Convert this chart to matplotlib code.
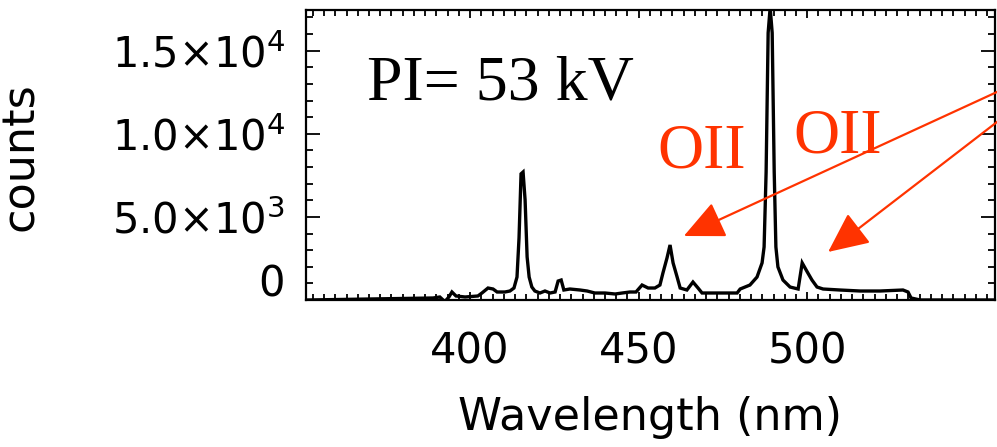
import numpy as np
import matplotlib
matplotlib.use('Agg')
import matplotlib.pyplot as plt
from matplotlib.ticker import MultipleLocator

# spectrum (nm, counts)
wavelength = [352, 389.0, 391.0, 392.5, 393.7, 394.6, 395.8, 398.5, 402.3, 403.5,
              405.3, 406.8, 408.0, 410.3, 411.8, 413.0, 413.9, 414.5, 415.1, 415.7,
              416.3, 416.9, 417.5, 418.3, 419.2, 420.7, 422.2, 423.7, 425.2, 426.1,
              427.0, 427.8, 429.6, 432.6, 434.7, 437.0, 440.0, 443.0, 445.1, 447.4,
              449.2, 451.0, 452.8, 454.8, 456.3, 457.2, 458.4, 459.3, 460.2, 461.4,
              462.3, 464.3, 466.1, 467.6, 468.8, 472.0, 475.6, 479.2, 480.1, 483.0,
              485.1, 486.6, 487.2, 487.8, 488.4, 489.0, 489.6, 490.2, 490.7, 491.3,
              492.8, 494.9, 497.3, 498.5, 500.0, 501.4, 502.9, 504.7, 509.7, 515.7,
              521.6, 528.4, 529.9, 530.8, 533.5, 556]
counts = [0, 120, 180, -100, 180, 480, 240, 180, 240, 420,
          720, 660, 480, 480, 540, 720, 1380, 3730, 7590, 7700,
          6020, 2590, 1380, 780, 540, 420, 540, 420, 480, 1140,
          1200, 600, 660, 600, 540, 420, 420, 360, 420, 480,
          480, 900, 720, 720, 900, 1630, 2530, 3310, 2230, 1380,
          720, 600, 1080, 720, 420, 420, 420, 420, 660, 900,
          1380, 2230, 3190, 7700, 16070, 17600, 16070, 7700, 3190, 1990,
          1200, 780, 660, 2230, 1690, 1200, 780, 660, 600, 540,
          540, 600, 480, 120, 0, 0]

x_ticks = [400, 450, 500]
x_tick_labels = ['400', '450', '500']
y_ticks = [0, 5000, 10000, 15000]
y_tick_labels = ['', r'5.0$\times$10$^{3}$', r'1.0$\times$10$^{4}$', r'1.5$\times$10$^{4}$']

# arrow tips (nm, counts) for the OII lines
oii_tips = [(463.4, 3850), (506.2, 2890)]

red = '#ff3300'

plt.rcParams['mathtext.fontset'] = 'dejavusans'

fig = plt.figure(figsize=(9.97, 4.47), dpi=100)
ax = fig.add_axes([0.3069, 0.3289, 0.6911, 0.6488])

ax.plot(wavelength, counts, color='black', lw=2.4, solid_joinstyle='miter')

ax.set_xlim(351.3, 555.7)
ax.set_ylim(0, 17450)

ax.set_xticks(x_ticks)
ax.set_xticklabels(x_tick_labels)
ax.set_yticks(y_ticks)
ax.set_yticklabels(y_tick_labels)
ax.xaxis.set_minor_locator(MultipleLocator(10 / 3))
ax.yaxis.set_minor_locator(MultipleLocator(1000))
ax.tick_params(which='both', direction='in', top=True, right=True, width=1.3)
ax.tick_params(axis='x', which='major', length=6, labelsize=30, pad=22)
ax.tick_params(axis='x', which='minor', length=4)
ax.tick_params(axis='y', which='major', length=10, labelsize=30, pad=15)
ax.tick_params(axis='y', which='minor', length=5)
for s in ax.spines.values():
    s.set_linewidth(1.6)

# zero label sits a bit above the axis line in the original
ax.annotate('0', xy=(0, 0), xycoords=('axes fraction', 'data'),
            xytext=(-21, 15), textcoords='offset pixels',
            ha='right', va='center', fontsize=30)

ax.set_xlabel('Wavelength (nm)', fontsize=32)
ax.set_ylabel('counts', fontsize=32)
ax.xaxis.set_label_coords(0.5, -0.33)
ax.yaxis.set_label_coords(-0.383, 0.493)

ax.text(369.4, 12040, 'PI= 53 kV', family='Liberation Serif', fontsize=46,
        va='baseline', ha='left')
ax.text(455.4, 7950, 'OII', family='Liberation Serif', fontsize=46,
        color=red, va='baseline', ha='left')
ax.text(495.8, 8850, 'OII', family='Liberation Serif', fontsize=46,
        color=red, va='baseline', ha='left')

starts = [(1010, 361), (1010, 335)]
for tip, st in zip(oii_tips, starts):
    ax.annotate('', xy=tip, xycoords='data', xytext=st, textcoords='figure pixels',
                annotation_clip=False,
                arrowprops=dict(arrowstyle='-|>,head_length=1.4,head_width=0.65',
                                color=red, lw=1.6, shrinkA=0, shrinkB=0,
                                mutation_scale=18))

fig.savefig('out.png', dpi=100)
